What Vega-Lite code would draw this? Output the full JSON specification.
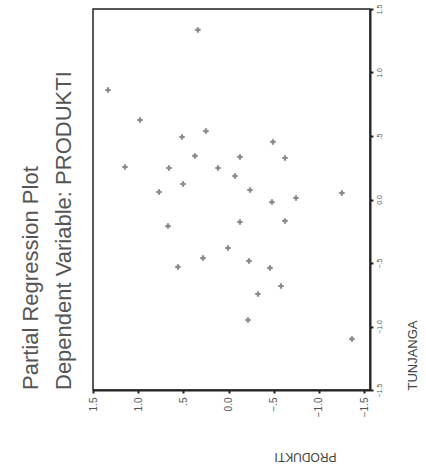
{
  "$schema": "https://vega.github.io/schema/vega-lite/v6.json",
  "autosize": "none",
  "width": 277,
  "height": 381,
  "padding": {"left": 93, "top": 9, "right": 56, "bottom": 81},
  "background": "white",
  "title": {
    "text": "Partial Regression Plot",
    "subtitle": "Dependent Variable: PRODUKTI",
    "orient": "left",
    "anchor": "start",
    "frame": "group",
    "font": "Liberation Sans",
    "fontSize": 22,
    "fontWeight": "normal",
    "color": "#555555",
    "subtitleFont": "Liberation Sans",
    "subtitleFontSize": 22,
    "subtitleColor": "#555555",
    "subtitlePadding": 11,
    "offset": 12
  },
  "config": {
    "view": {"stroke": "#222222", "strokeWidth": 1.5},
    "axis": {"grid": false, "domainColor": "#222222", "domainWidth": 2, "tickColor": "#222222", "labelFont": "Liberation Sans", "titleFont": "Liberation Sans", "labelColor": "#555555", "titleColor": "#444444", "titleFontWeight": "normal"}
  },
  "data": {
    "values": [
      {"PRODUKTI": 0.339, "TUNJANGA": 1.335},
      {"PRODUKTI": 1.334, "TUNJANGA": 0.862},
      {"PRODUKTI": 0.98, "TUNJANGA": 0.626},
      {"PRODUKTI": 0.515, "TUNJANGA": 0.492},
      {"PRODUKTI": 0.25, "TUNJANGA": 0.539},
      {"PRODUKTI": -0.491, "TUNJANGA": 0.453},
      {"PRODUKTI": 1.146, "TUNJANGA": 0.256},
      {"PRODUKTI": 0.659, "TUNJANGA": 0.248},
      {"PRODUKTI": 0.372, "TUNJANGA": 0.343},
      {"PRODUKTI": 0.117, "TUNJANGA": 0.248},
      {"PRODUKTI": -0.126, "TUNJANGA": 0.335},
      {"PRODUKTI": -0.624, "TUNJANGA": 0.327},
      {"PRODUKTI": -0.071, "TUNJANGA": 0.185},
      {"PRODUKTI": 0.504, "TUNJANGA": 0.122},
      {"PRODUKTI": 0.77, "TUNJANGA": 0.059},
      {"PRODUKTI": -0.237, "TUNJANGA": 0.075},
      {"PRODUKTI": -0.48, "TUNJANGA": -0.02},
      {"PRODUKTI": -0.746, "TUNJANGA": 0.012},
      {"PRODUKTI": -1.254, "TUNJANGA": 0.051},
      {"PRODUKTI": 0.67, "TUNJANGA": -0.209},
      {"PRODUKTI": -0.126, "TUNJANGA": -0.177},
      {"PRODUKTI": -0.624, "TUNJANGA": -0.169},
      {"PRODUKTI": 0.007, "TUNJANGA": -0.382},
      {"PRODUKTI": 0.283, "TUNJANGA": -0.461},
      {"PRODUKTI": 0.56, "TUNJANGA": -0.531},
      {"PRODUKTI": -0.226, "TUNJANGA": -0.484},
      {"PRODUKTI": -0.458, "TUNJANGA": -0.539},
      {"PRODUKTI": -0.58, "TUNJANGA": -0.681},
      {"PRODUKTI": -0.325, "TUNJANGA": -0.744},
      {"PRODUKTI": -0.215, "TUNJANGA": -0.949},
      {"PRODUKTI": -1.365, "TUNJANGA": -1.098}
    ]
  },
  "mark": {"type": "point", "shape": "cross", "filled": true, "size": 30, "color": "#777777", "opacity": 0.85},
  "encoding": {
    "x": {
      "field": "PRODUKTI", "type": "quantitative",
      "scale": {"domain": [1.5, -1.565], "nice": false, "zero": false},
      "axis": {
        "orient": "bottom",
        "values": [1.5, 1, 0.5, 0, -0.5, -1, -1.5],
        "labelExpr": "datum.value == 0 ? '0.0' : replace(format(datum.value, '.1f'), '0.', '.')",
        "labelAngle": -90, "labelAlign": "right", "labelBaseline": "middle",
        "labelFontSize": 10, "labelPadding": 4,
        "tickSize": 3, "tickWidth": 2,
        "title": "PRODUKTI", "titleAngle": 180, "titleFontSize": 12,
        "titleX": 212, "titleY": 66, "titleAlign": "center", "titleBaseline": "middle"
      }
    },
    "y": {
      "field": "TUNJANGA", "type": "quantitative",
      "scale": {"domain": [-1.5, 1.5], "nice": false, "zero": false},
      "axis": {
        "orient": "right",
        "values": [-1.5, -1, -0.5, 0, 0.5, 1, 1.5],
        "labelExpr": "datum.value == 0 ? '0.0' : replace(format(datum.value, '.1f'), '0.', '.')",
        "labelAngle": -90, "labelAlign": "center", "labelBaseline": "top",
        "labelFontSize": 7, "labelPadding": 2,
        "tickSize": 3, "tickWidth": 2,
        "title": "TUNJANGA", "titleAngle": -90, "titleFontSize": 13,
        "titleX": 42, "titleY": 346, "titleAlign": "center", "titleBaseline": "middle"
      }
    }
  }
}
